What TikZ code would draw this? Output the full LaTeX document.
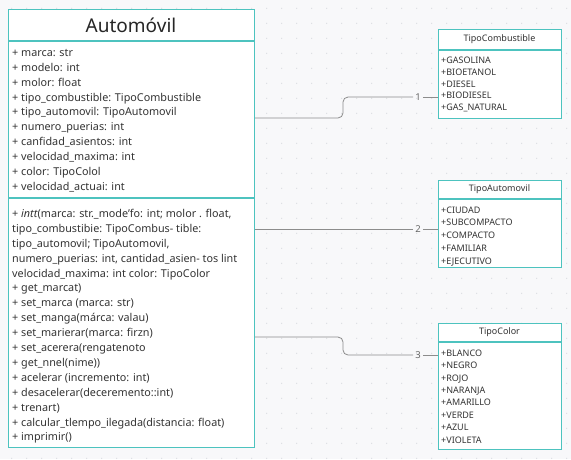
\documentclass[tikz,border=0pt]{standalone}
\usepackage{fontspec}
\setmainfont{Noto Sans}
\usetikzlibrary{positioning}
\definecolor{boxline}{HTML}{4DC3BF}
\definecolor{pagebg}{HTML}{F8F8FA}
\definecolor{griddot}{HTML}{DCDEE3}
\definecolor{conncol}{HTML}{8C8C8C}
\definecolor{txt}{HTML}{333333}
\tikzset{classbox/.style={draw=boxline,line width=1.2pt,fill=white,anchor=north west,inner sep=0pt},
         sepline/.style={draw=boxline,line width=1.2pt},
         member/.style={anchor=north west,align=left,inner sep=0pt,text=txt,font=\fontsize{10.8}{14.9}\selectfont},
         enumval/.style={anchor=north west,align=left,inner sep=0pt,text=txt},
         classname/.style={text=txt,inner sep=0pt,font=\fontsize{9}{10}\selectfont},
         conn/.style={draw=conncol,line width=0.8pt,rounded corners=5pt},
         mult/.style={inner sep=2pt,text=black!60,font=\fontsize{9.5}{9.5}\selectfont},
        }

\begin{document}
\begin{tikzpicture}[x=1pt,y=-1pt]
        \fill[pagebg](0,0)rectangle(571,459);
        \useasboundingbox(0,0)rectangle(571,459);
        \foreach \gx in {11.7,26.7,...,571}
            \foreach \gy in {8.3,23.3,...,459}
                \fill[griddot](\gx,\gy)circle(0.7pt);

        % Automovil
        \node[classbox,minimum width=246pt,minimum height=438pt](auto)at(8,9){};
        \draw[sepline](auto.west|-0,41)--(auto.east|-0,41);
        \draw[sepline](auto.west|-0,198)--(auto.east|-0,198);
        \node[text=black!85,inner sep=0pt,font=\fontsize{19}{19}\selectfont](autoname)at(131,25){Automóvil};
        \node[member](autoattr)at(12,49){+ marca: str\\
            + modelo: int\\
            + molor: float\\
            + tipo\_combustible: TipoCombustible\\
            + tipo\_automovil: TipoAutomovil\\
            + numero\_puerias: int\\
            + canfidad\_asientos: int\\
            + velocidad\_maxima: int\\
            + color: TipoColol\\
            + velocidad\_actuai: int};
        \node[member](autometh)at(12,209){+ \textit{intt}(marca: str.\_mode'fo: int; molor . float,\\
            tipo\_combustibie: TipoCombus- tible:\\
            tipo\_automovil; TipoAutomovil,\\
            numero\_puerias: int, cantidad\_asien- tos lint\\
            velocidad\_maxima: int color: TipoColor\\
            + get\_marcat)\\
            + set\_marca (marca: str)\\
            + set\_manga(márca: valau)\\
            + set\_marierar(marca: firzn)\\
            + set\_acerera(rengatenoto\\
            + get\_nnel(nime))\\
            + acelerar (incremento: int)\\
            + desacelerar(deceremento::int)\\
            + trenart)\\
            + calcular\_tlempo\_ilegada(distancia: float)\\
            + imprimir()};

        % TipoCombustible
        \node[classbox,minimum width=123pt,minimum height=89pt](tc)at(438,29){};
        \draw[sepline](tc.west|-0,50)--(tc.east|-0,50);
        \node[classname](tcname)at(499.5,39.5){TipoCombustible};
        \node[enumval,font=\fontsize{9}{11.75}\selectfont](tcvals)at(441,57){+GASOLINA\\
            +BIOETANOL\\
            +DIESEL\\
            +BIODIESEL\\
            +GAS\_NATURAL};

        % TipoAutomovil
        \node[classbox,minimum width=123pt,minimum height=87pt](ta)at(438,180){};
        \draw[sepline](ta.west|-0,199)--(ta.east|-0,199);
        \node[classname](taname)at(499.5,189.5){TipoAutomovil};
        \node[enumval,font=\fontsize{9}{12.75}\selectfont](tavals)at(441,206.5){+CIUDAD\\
            +SUBCOMPACTO\\
            +COMPACTO\\
            +FAMILIAR\\
            +EJECUTIVO};

        % TipoColor
        \node[classbox,minimum width=123pt,minimum height=126pt](tco)at(438,323){};
        \draw[sepline](tco.west|-0,342)--(tco.east|-0,342);
        \node[classname](tconame)at(499.5,332.5){TipoColor};
        \node[enumval,font=\fontsize{9}{12.4}\selectfont](tcovals)at(441,349.5){+BLANCO\\
            +NEGRO\\
            +ROJO\\
            +NARANJA\\
            +AMARILLO\\
            +VERDE\\
            +AZUL\\
            +VIOLETA};

        \node[mult](m1)at(418,97){1};
        \node[mult](m2)at(418,229){2};
        \node[mult](m3)at(418,355){3};

        \draw[conn](auto.east|-0,118)--(343,118)--(343,97)--(m1.west);
        \draw[conn](m1.east)--(tc.west|-m1);
        \draw[conn](auto.east|-m2)--(m2.west);
        \draw[conn](m2.east)--(ta.west|-m2);
        \draw[conn](auto.east|-0,337)--(343,337)--(343,355)--(m3.west);
        \draw[conn](m3.east)--(tco.west|-m3);
    \end{tikzpicture}
\end{document}
